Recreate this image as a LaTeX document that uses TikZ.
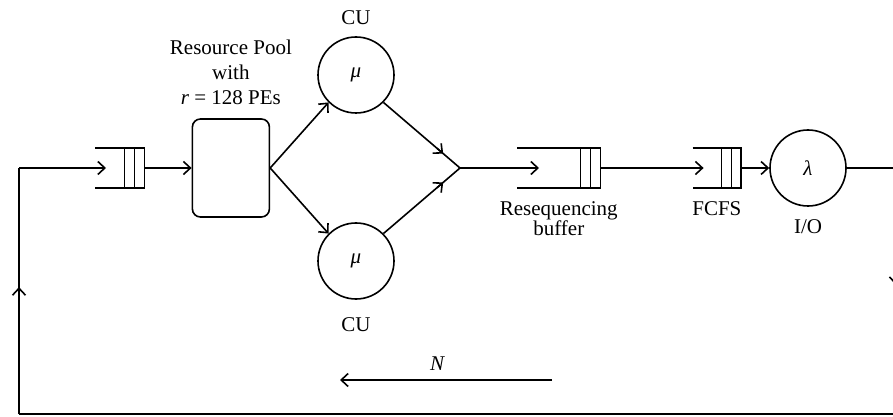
\documentclass[tikz,border=0pt]{standalone}
\usepackage{fontspec}
\setmainfont{Liberation Serif}
\usetikzlibrary{positioning,arrows.meta,calc}

% open-ended queue with two slot bars at its closed end
\newcommand{\fifolines}[1]{%
  \draw (#1.north west) -- (#1.north east) -- (#1.south east) -- (#1.south west);
  \draw[thin] ([xshift=-10pt]#1.north east) -- ([xshift=-10pt]#1.south east);
  \draw[thin] ([xshift=-20pt]#1.north east) -- ([xshift=-20pt]#1.south east);}

\begin{document}
\begin{tikzpicture}[x=1pt,y=1pt, >={Straight Barb[length=7pt,width=13pt]},
  line width=1.6pt, font=\fontsize{21}{25}\selectfont,
  fifo/.style={minimum width=#1,minimum height=38pt,inner sep=0pt},
  pool/.style={draw,rounded corners=8pt,minimum width=77pt,minimum height=98pt},
  server/.style={draw,circle,minimum size=76pt,inner sep=0pt},
  txt/.style={inner sep=1pt,align=center}]
  \useasboundingbox (-19,-249) rectangle (874,168);
  \coordinate (loopin) at (0,0);
  \node[fifo=48pt,right=76pt of loopin](q1){};
  \node[pool,right=47pt of q1](pool){};
  \node[txt,above=12pt of pool](pooltxt){Resource Pool\\with\\\textit{r} = 128 PEs};
  \node[server](cu1) at (337,93){\textit{μ}};
  \node[server](cu2) at (337,-93){\textit{μ}};
  \node[txt,above=10pt of cu1](cu1txt){CU};
  \node[txt,below=16pt of cu2](cu2txt){CU};
  \coordinate (merge) at (441,0);
  \node[fifo=82pt,right=57pt of merge](rq){};
  \node[fifo=47pt,right=92pt of rq](fq){};
  \node[server,right=28pt of fq](io){\textit{λ}};
  \node[txt,below=12pt of rq,font=\fontsize{21}{19}\selectfont](rqtxt){Resequencing\\buffer};
  \node[txt,below=12pt of fq](fqtxt){FCFS};
  \node[txt,below=11pt of io](iotxt){I/O};
  \fifolines{q1} \fifolines{rq} \fifolines{fq}
  % forward path
  \draw[->](loopin)--([xshift=11pt]q1.west);
  \draw[->](q1.east)--(pool.west);
  \draw[->](pool.east)--(cu1.225);
  \draw[->](pool.east)--(cu2.135);
  \draw[->](cu1.-45)--($(cu1.-45)!0.78!(merge)$);
  \draw($(cu1.-45)!0.7!(merge)$)--(merge);
  \draw[->](cu2.45)--($(cu2.45)!0.78!(merge)$);
  \draw($(cu2.45)!0.7!(merge)$)--(merge);
  \draw[->](merge)--([xshift=22pt]rq.west);
  \draw[->](rq.east)--([xshift=11pt]fq.west);
  \draw[->](fq.east)--(io.west);
  % return loop, right side runs past the page edge
  \coordinate (tr) at (877,0);
  \coordinate (br) at (877,-246);
  \coordinate (bl) at (0,-246);
  \draw(io.east)--(tr);
  \draw[->](tr)--($(tr)!0.476!(br)$);
  \draw($(tr)!0.45!(br)$)--(br)--(bl);
  \draw[->](bl)--($(bl)!0.516!(loopin)$);
  \draw($(bl)!0.5!(loopin)$)--(loopin);
  % population label
  \coordinate (nr) at (533,-212);
  \coordinate (nl) at (321,-212);
  \draw[->](nr)-- node[txt,above=8pt,pos=0.54]{\textit{N}} (nl);
\end{tikzpicture}
\end{document}
